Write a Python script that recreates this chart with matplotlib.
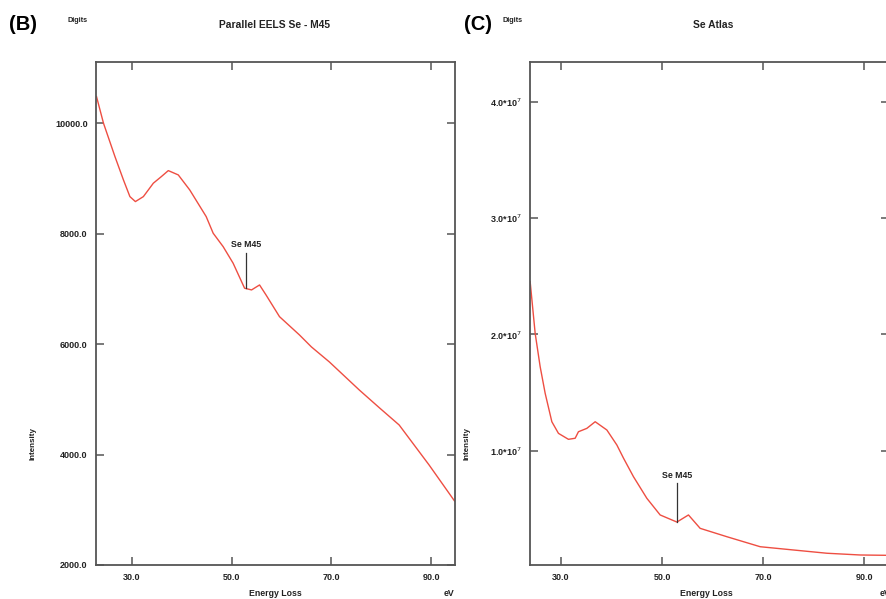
import matplotlib
matplotlib.use("Agg")
import matplotlib.pyplot as plt
from matplotlib.ticker import FixedLocator

plt.rcParams['font.family'] = ['Liberation Sans', 'DejaVu Sans']

# panel B: Parallel EELS Se - M45
b_ev = [22.9, 24.3, 26.6, 28.3, 29.6, 30.7, 32.3, 34.3, 35.9, 37.3, 39.3, 41.6,
        44.9, 46.3, 48.3, 50.3, 52.6, 54.0, 55.6, 56.9, 59.6, 63.6, 66.0, 69.6,
        75.6, 79.6, 83.6, 89.6, 94.7]
b_int = [10484, 10002, 9397, 8975, 8672, 8582, 8672, 8915, 9034, 9143, 9065, 8793,
         8310, 8009, 7766, 7466, 7013, 6982, 7072, 6891, 6498, 6167, 5950, 5678,
         5170, 4850, 4536, 3812, 3160]

# panel C: Se Atlas
c_ev = [23.93, 24.92, 25.91, 26.90, 28.22, 29.53, 31.50, 32.83, 33.48, 35.14,
        36.79, 39.10, 41.08, 42.38, 44.36, 47.01, 49.64, 52.95, 55.24, 57.55,
        62.84, 69.43, 76.01, 82.62, 89.21, 94.9]
c_int = [2.452e7, 2.009e7, 1.722e7, 1.493e7, 1.249e7, 1.149e7, 1.098e7, 1.107e7,
         1.163e7, 1.192e7, 1.249e7, 1.178e7, 1.049e7, 0.937e7, 0.777e7, 0.591e7,
         0.448e7, 0.387e7, 0.448e7, 0.333e7, 0.261e7, 0.175e7, 0.147e7, 0.119e7,
         0.104e7, 0.101e7]

x_ticks = [30, 50, 70, 90]
x_labels = ['30.0', '50.0', '70.0', '90.0']
b_yticks = [2000, 4000, 6000, 8000, 10000]
b_ylabels = ['2000.0', '4000.0', '6000.0', '8000.0', '10000.0']
c_yticks = [1e7, 2e7, 3e7, 4e7]
c_ylabels = ['1.0*10$^7$', '2.0*10$^7$', '3.0*10$^7$', '4.0*10$^7$']

# edge marker: x, line bottom, line top
b_marker = (52.9, 7018, 7652)
c_marker = (52.95, 0.39e7, 0.722e7)

W, H = 887, 599
fig = plt.figure(figsize=(W / 100, H / 100), dpi=100)

line_col = '#ee4e42'
spine_col = '#555555'
txt_col = '#222222'


def style_axes(ax):
    for s in ax.spines.values():
        s.set_color(spine_col)
        s.set_linewidth(1.3)
    ax.tick_params(direction='in', length=6, width=1.1, color=spine_col,
                   top=True, right=True, labelsize=6.5, labelcolor=txt_col, pad=6)
    ax.xaxis.set_major_locator(FixedLocator(x_ticks))
    ax.set_xticklabels(x_labels)
    for lab in ax.get_xticklabels() + ax.get_yticklabels():
        lab.set_fontweight('bold')


def px(x, y):
    return x / W, 1 - y / H


# ---- panel B
axb = fig.add_axes([96 / W, 1 - 565 / H, (455 - 96) / W, (565 - 62) / H])
axb.plot(b_ev, b_int, color=line_col, lw=1.0)
axb.set_xlim(22.8, 94.8)
axb.set_ylim(2000, 11110)
axb.set_yticks(b_yticks)
axb.set_yticklabels(b_ylabels)
style_axes(axb)
axb.plot([b_marker[0], b_marker[0]], [b_marker[1], b_marker[2]], color='#333333', lw=0.9)
axb.text(b_marker[0], b_marker[2] + 80, 'Se M45', ha='center', va='bottom',
         fontsize=6.3, fontweight='bold', color=txt_col)

# ---- panel C
axc = fig.add_axes([530 / W, 1 - 565 / H, (889 - 530) / W, (565 - 62) / H])
axc.plot(c_ev, c_int, color=line_col, lw=1.0)
axc.set_xlim(23.9, 94.9)
axc.set_ylim(0.018e7, 4.34e7)
axc.set_yticks(c_yticks)
axc.set_yticklabels(c_ylabels)
style_axes(axc)
axc.plot([c_marker[0], c_marker[0]], [c_marker[1], c_marker[2]], color='#333333', lw=0.9)
axc.text(c_marker[0], c_marker[2] + 0.03e7, 'Se M45', ha='center', va='bottom',
         fontsize=6.3, fontweight='bold', color=txt_col)

# ---- figure texts
fig.text(*px(9, 25), '(B)', fontsize=14.5, fontweight='bold', va='center', ha='left')
fig.text(*px(464, 25), '(C)', fontsize=14.5, fontweight='bold', va='center', ha='left')
fig.text(*px(68, 21), 'Digits', fontsize=5.2, fontweight='bold', va='center', ha='left', color=txt_col)
fig.text(*px(503, 21), 'Digits', fontsize=5.2, fontweight='bold', va='center', ha='left', color=txt_col)
fig.text(*px(275, 25), 'Parallel EELS Se - M45', fontsize=7.4, fontweight='bold', va='center', ha='center', color=txt_col)
fig.text(*px(713, 25), 'Se Atlas', fontsize=7.4, fontweight='bold', va='center', ha='center', color=txt_col)
fig.text(*px(33, 443), 'Intensity', fontsize=5.8, fontweight='bold', rotation=90, va='center', ha='center', color=txt_col)
fig.text(*px(467, 443), 'Intensity', fontsize=5.8, fontweight='bold', rotation=90, va='center', ha='center', color=txt_col)
fig.text(*px(275, 593), 'Energy Loss', fontsize=6.3, fontweight='bold', va='center', ha='center', color=txt_col)
fig.text(*px(706, 593), 'Energy Loss', fontsize=6.3, fontweight='bold', va='center', ha='center', color=txt_col)
fig.text(*px(449, 593), 'eV', fontsize=6.3, fontweight='bold', va='center', ha='center', color=txt_col)
fig.text(*px(880, 593), 'eV', fontsize=6.3, fontweight='bold', va='center', ha='left', color=txt_col)

fig.savefig('out.png', dpi=100)
